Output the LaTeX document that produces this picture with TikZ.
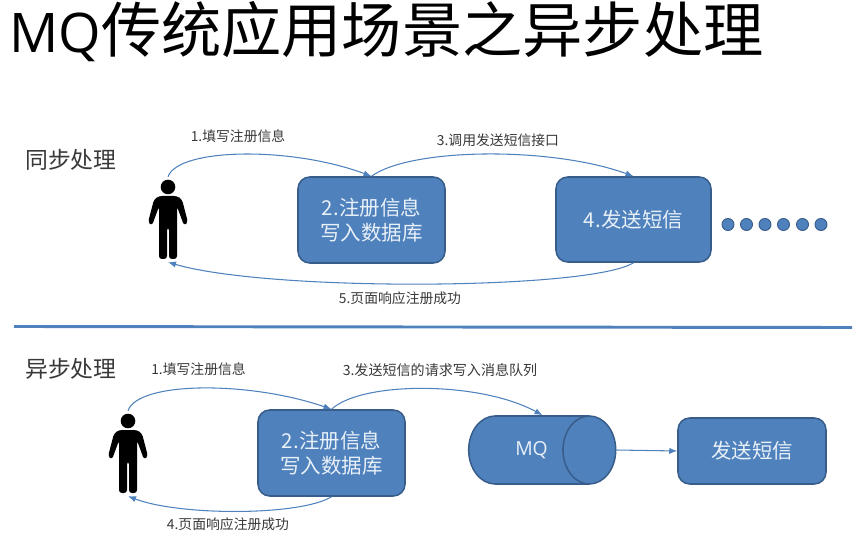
\documentclass[tikz,border=0pt]{standalone}
\usepackage{fontspec}
\setmainfont{Noto Sans CJK SC}
\newfontfamily\mqlatin{Open Sans}
\usetikzlibrary{arrows.meta,shapes.geometric}
\definecolor{MqBlue}{RGB}{79,129,189}
\definecolor{MqEdge}{RGB}{56,93,138}
\definecolor{MqPale}{RGB}{232,240,248}
\definecolor{MqText}{RGB}{56,56,56}
\tikzset{
  mq/box/.style={
    draw=MqEdge,
    line width=1.3pt,
    rounded corners=10pt,
    fill=MqBlue,
    align=center,
    text=MqPale,
    font=\fontsize{17.5}{21.5}\selectfont
  },
  mq/queue/.style={
    cylinder,
    aspect=2.1,
    draw=MqEdge,
    line width=1.3pt,
    fill=MqBlue,
    text=MqPale,
    minimum width=2.04cm,
    minimum height=4.41cm,
    font=\mqlatin\fontsize{16.5}{20}\selectfont
  },
  mq/dot/.style={circle, draw=MqEdge, line width=0.8pt, fill=MqBlue, inner sep=0pt, minimum size=0.36cm},
  mq/person/.style={inner sep=0pt, minimum width=1.14cm, minimum height=2.55cm},
  mq/arrow/.style={-{Latex[length=2.4mm,width=1.9mm]}, line width=0.9pt, draw=MqBlue},
  mq/divider/.style={line width=2.5pt, draw=MqBlue},
  mq/tinylabel/.style={font=\fontsize{11.8}{14}\selectfont, text=MqText},
  mq/section/.style={font=\fontsize{19.5}{24}\selectfont, text=MqText},
  mq/title/.style={font=\fontsize{51.4}{60}\selectfont, text=black, anchor=base west, inner sep=0pt},
  mq/figure/.pic={
    \fill (0,-32.5) circle (7.3);
    \fill[rounded corners=2.5pt] (-9,-23.5) -- (9,-23.5) -- (14,-20) -- (20,3) -- (16,6) -- (9,-13)
      -- (9,39.5) -- (1,39.5) -- (1,8) -- (-1,8) -- (-1,39.5) -- (-9,39.5) -- (-9,-13)
      -- (-16,6) -- (-20,3) -- (-14,-20) -- cycle;
  }
}
\begin{document}
\begin{tikzpicture}[x=0.03cm,y=-0.03cm]
  \useasboundingbox (0,0) rectangle (859,536);
  \node[mq/title] (title) at (9,53) {{\mqlatin\fontsize{46.6}{60}\selectfont MQ}传统应用场景之异步处理};

  % sync
  \node[mq/section] (syncName) at (71,160) {同步处理};
  \node[mq/person] (userA) at (168,219.5) {};
  \pic at (userA) {mq/figure};
  \node[mq/box,minimum width=4.41cm,minimum height=2.58cm] (dbA) at (371.5,220) {2.注册信息\\写入数据库};
  \node[mq/box,minimum width=4.65cm,minimum height=2.55cm] (smsA) at (633.5,219.5) {4.发送短信};
  \foreach \i/\x in {1/728,2/746.5,3/765,4/783.5,5/802.5,6/821}
    \node[mq/dot] (dot\i) at (\x,224.5) {};
  \draw[mq/arrow] (userA.north) .. controls (178,148) and (290,146) .. (dbA.north);
  \draw[mq/arrow] (dbA.north) .. controls (410,148) and (550,146) .. (smsA.north);
  \draw[mq/arrow] (smsA.south) .. controls (590,290) and (270,292) .. (userA.south);
  \node[mq/tinylabel] (stepA) at (238,136) {1.填写注册信息};
  \node[mq/tinylabel] (stepB) at (498,140) {3.调用发送短信接口};
  \node[mq/tinylabel] (stepC) at (400,298) {5.页面响应注册成功};

  \coordinate (ruleL) at (14,326.5);
  \coordinate (ruleR) at (852,327.5);
  \draw[mq/divider] (ruleL) -- (ruleR);

  % async
  \node[mq/section] (asyncName) at (71,369) {异步处理};
  \node[mq/person] (userB) at (128,453.5) {};
  \pic at (userB) {mq/figure};
  \node[mq/box,minimum width=4.41cm,minimum height=2.58cm] (dbB) at (331.5,453) {2.注册信息\\写入数据库};
  \node[mq/queue] (queue) at (522.5,450) {\hspace{0.54cm}MQ};
  \node[mq/box,minimum width=4.44cm,minimum height=1.98cm] (sms) at (752,451) {发送短信};
  \draw[mq/arrow] (userB.north) .. controls (138,381) and (250,381) .. (dbB.north);
  \draw[mq/arrow] (dbB.north) .. controls (362,381) and (480,381) .. ([xshift=0.6cm]queue.north);
  \draw[mq/arrow] (queue.east) -- (sms.west);
  \draw[mq/arrow] (dbB.south) .. controls (300,516) and (180,516) .. (userB.south);
  \node[mq/tinylabel] (stepD) at (198.5,369) {1.填写注册信息};
  \node[mq/tinylabel,font=\fontsize{12}{14}\selectfont] (stepE) at (440,370) {3.发送短信的请求写入消息队列};
  \node[mq/tinylabel] (stepF) at (228,524) {4.页面响应注册成功};
\end{tikzpicture}
\end{document}
